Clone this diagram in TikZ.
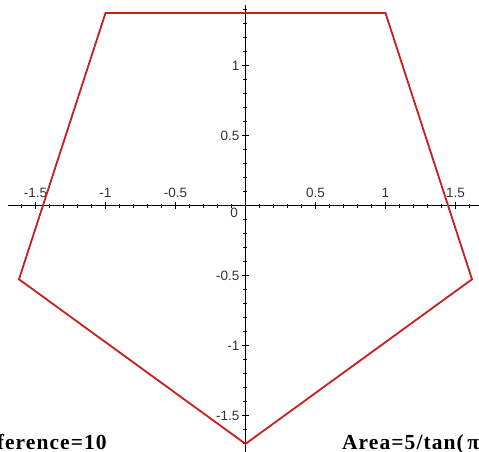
\documentclass[tikz,border=0pt]{standalone}
\usepackage{fontspec}
\setmainfont{Liberation Serif}
\setsansfont{Liberation Sans}
\usetikzlibrary{positioning,calc}
\definecolor{curvered}{RGB}{200,30,30}

\begin{document}
\begin{tikzpicture}[x=140pt,y=140pt,
    axisline/.style={line width=1pt,black},
    ticklab/.style={font=\sffamily\fontsize{13.5}{13.5}\selectfont,text=black!80,inner sep=0pt},
    polyline/.style={line width=1.8pt,curvered,line join=miter},
    areatext/.style={font=\bfseries\fontsize{21.5}{21.5}\selectfont\addfontfeatures{LetterSpace=5},inner sep=0pt}]
% plot window
\coordinate (bl) at (-1.7536,-1.7593);
\coordinate (tr) at (1.6679,1.4693);
\useasboundingbox (bl) rectangle (tr);
\clip (bl) rectangle (tr);
% axes
\coordinate (xmin) at (-1.70,0);
\coordinate (xmax) at (1.70,0);
\coordinate (ymin) at (0,-1.80);
\coordinate (ymax) at (0,1.435);
\draw[axisline] (xmin) -- (xmax);
\draw[axisline] (ymin) -- (ymax);
% ticks
\foreach \t in {-16,...,16}
  \draw[axisline] (\t/10,0) ++(0pt,-2pt) -- ++(0pt,4pt);
\foreach \t in {-1.5,-1,-0.5,0.5,1,1.5}
  \draw[axisline] (\t,0) ++(0pt,-3.5pt) -- ++(0pt,7pt);
\foreach \t in {-17,...,14}
  \draw[axisline] (0,\t/10) ++(-2pt,0pt) -- ++(4pt,0pt);
\foreach \t in {-1.5,-1,-0.5,0.5,1}
  \draw[axisline] (0,\t) ++(-3.5pt,0pt) -- ++(7pt,0pt);
% tick labels
\foreach \t [count=\i] in {-1.5,-1,-0.5,0.5,1,1.5}
  \node[ticklab,anchor=base] (xlab\i) at (\t,0.055) {\t};
\foreach \t [count=\i] in {-1.5,-1,-0.5,0.5,1}
  \node[ticklab,anchor=east] (ylab\i) at ([xshift=-6pt]0,\t) {\t};
\node[ticklab,anchor=north east] (olab) at ([xshift=-7.5pt,yshift=-2.3pt]0,0) {0};
% pentagon
\coordinate (p1) at (-1,1.3764);
\coordinate (p2) at (1,1.3764);
\coordinate (p3) at (1.6180,-0.5257);
\coordinate (p4) at (0,-1.7013);
\coordinate (p5) at (-1.6180,-0.5257);
\draw[polyline] (p1) -- (p2) -- (p3) -- (p4) -- (p5) -- cycle;
% text
\node[areatext,anchor=base east] (circ) at (-0.99,-1.745) {Circumference=10};
\node[areatext,anchor=base west] (area) at (0.689,-1.745) {Area=5/tan(\,π/5)};
\end{tikzpicture}
\end{document}
